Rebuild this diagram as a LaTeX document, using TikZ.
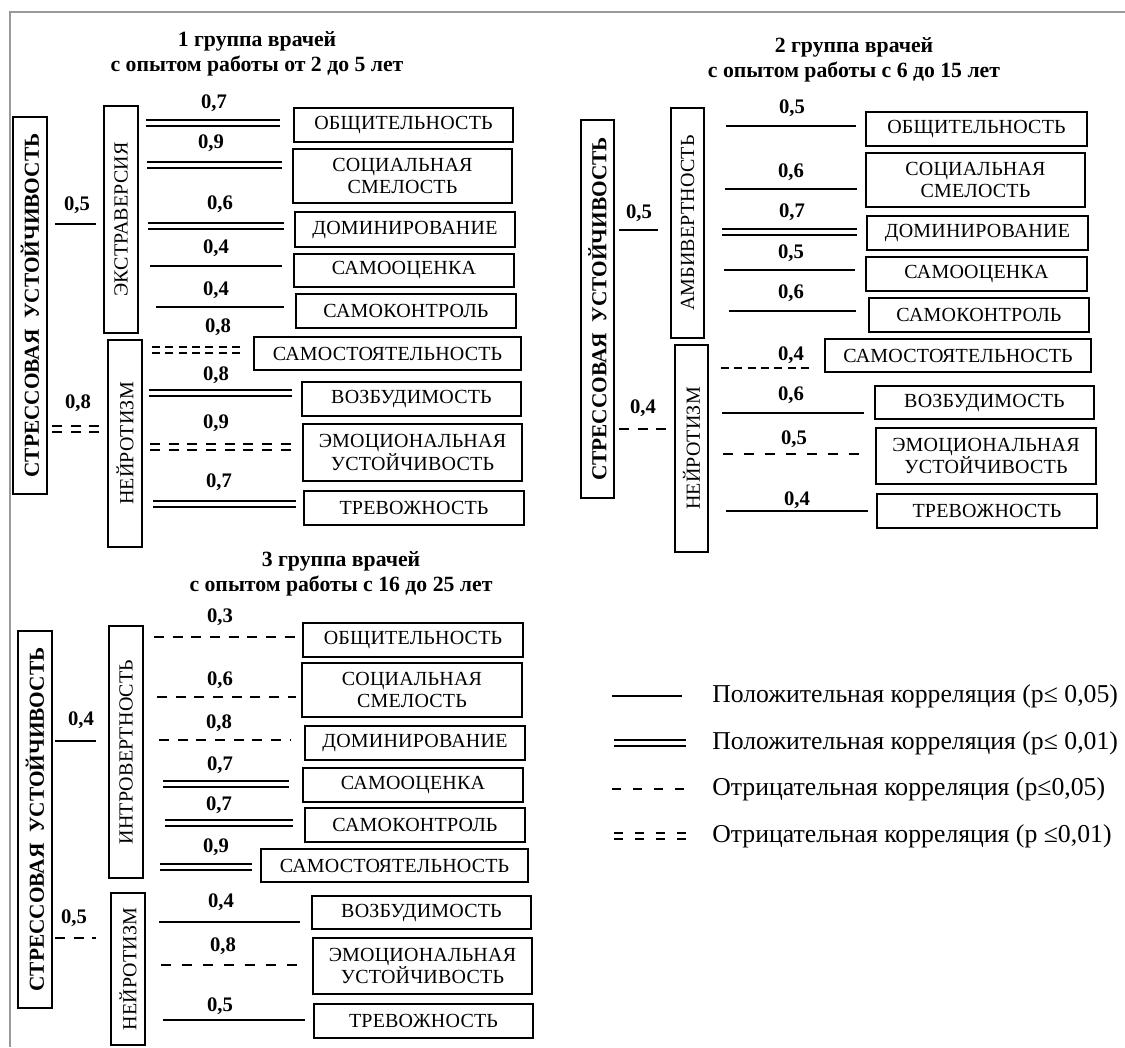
\documentclass[tikz,border=0pt]{standalone}
\usepackage{fontspec}
\setmainfont{Liberation Serif}
\newfontfamily\boxf[LetterSpace=1]{Liberation Serif}
\tikzset{
 tb/.style={draw, line width=0.8pt, inner sep=0pt, font=\boxf\fontsize{15}{17}\selectfont, align=center},
 vl/.style={tb, rotate=90},
 sb/.style={draw, line width=0.8pt, inner sep=0pt, rotate=90, font=\bfseries\fontsize{16}{19}\selectfont},
 num/.style={font=\bfseries\fontsize{15.5}{18}\selectfont, inner sep=0pt},
 ttl/.style={font=\bfseries\fontsize{16.3}{19}\selectfont, align=center, inner sep=0pt},
 cpos/.style={line width=1.4pt},
 cposd/.style={line width=1.4pt, double, double distance=3pt},
 cneg/.style={line width=1.4pt, dash pattern=on 7.5pt off 6.5pt},
 cnegw/.style={line width=1.4pt, dash pattern=on 7.5pt off 8.2pt},
 cnegs/.style={line width=1.4pt, dash pattern=on 6pt off 4pt},
 cnegd/.style={cposd, dash pattern=on 7.5pt off 6.5pt},
 cnegds/.style={cposd, dash pattern=on 6pt off 4pt},
 lneg/.style={line width=1.4pt, dash pattern=on 6.75pt off 9pt},
 lnegd/.style={cposd, dash pattern=on 6.75pt off 9pt},
 leg/.style={font=\fontsize{19.3}{22}\selectfont, anchor=west, inner sep=0pt},
 frame/.style={draw=black!40, line width=1.5pt},
}
\newcommand\tbx[6]{\node[tb, minimum width={0.75pt*(#4-#2)}, minimum height={0.75pt*(#5-#3)}] (#1) at ({(#2+#4)/2},{(#3+#5)/2}) {#6};}
\newcommand\vlab[7]{\node[#1, minimum width={0.75pt*(#6-#4)}, minimum height={0.75pt*(#5-#3)}] (#2) at ({(#3+#5)/2},{(#4+#6)/2}) {#7};}
\newcommand\corr[8]{\draw[#1] (#2,#4) -- (#3,#4); \node[num] (#5) at (#6,#7) {#8};}
\begin{document}
\begin{tikzpicture}[x=0.75pt, y=-0.75pt]
\useasboundingbox (0,0) rectangle (1125,1047);
\draw[frame] (10,1047) -- (10,12) -- (1125,12);

% ---------------- group 1
\node[ttl] (t1) at (257,54) {1 группа врачей\\с опытом работы от 2 до 5 лет};
\vlab{sb}{s1}{13}{117}{47}{494}{СТРЕССОВАЯ\ \ УСТОЙЧИВОСТЬ}
\vlab{vl}{e1}{104}{106}{138}{333}{ЭКСТРАВЕРСИЯ}
\vlab{vl}{n1}{108}{340}{142}{547}{НЕЙРОТИЗМ}
\corr{cpos}{55}{96}{224}{m1a}{77}{205}{0,5}
\corr{cnegd}{52}{100}{429}{m1b}{78}{403}{0,8}
\tbx{b1a}{294}{108}{513}{142}{ОБЩИТЕЛЬНОСТЬ}
\tbx{b1b}{293}{149}{512}{203}{СОЦИАЛЬНАЯ\\СМЕЛОСТЬ}
\tbx{b1c}{295}{212}{515}{247}{ДОМИНИРОВАНИЕ}
\tbx{b1d}{294}{254}{514}{287}{САМООЦЕНКА}
\tbx{b1e}{296}{294}{516}{328}{САМОКОНТРОЛЬ}
\tbx{b1f}{254}{337}{521}{370}{САМОСТОЯТЕЛЬНОСТЬ}
\tbx{b1g}{302}{382}{521}{416}{ВОЗБУДИМОСТЬ}
\tbx{b1h}{303}{424}{522}{481}{ЭМОЦИОНАЛЬНАЯ\\УСТОЙЧИВОСТЬ}
\tbx{b1i}{304}{491}{524}{525}{ТРЕВОЖНОСТЬ}
\corr{cposd}{146}{280}{123}{c1a}{214}{103}{0,7}
\corr{cposd}{147}{282}{165}{c1b}{211}{143}{0,9}
\corr{cposd}{148}{284}{226}{c1c}{220}{204}{0,6}
\corr{cpos}{150}{282}{266}{c1d}{216}{248}{0,4}
\corr{cpos}{156}{284}{307}{c1e}{216}{290}{0,4}
\corr{cnegds}{152}{243}{350}{c1f}{218}{327}{0,8}
\corr{cposd}{149}{292}{393}{c1g}{216}{375}{0,8}
\corr{cnegd}{150}{291}{447}{c1h}{216}{423}{0,9}
\corr{cposd}{153}{296}{504}{c1i}{219}{482}{0,7}

% ---------------- group 2
\node[ttl] (t2) at (854,60) {2 группа врачей\\с опытом работы с 6 до 15 лет};
\vlab{sb}{s2}{581}{120}{614}{498}{СТРЕССОВАЯ\ \ УСТОЙЧИВОСТЬ}
\vlab{vl}{e2}{671}{108}{704}{338}{АМБИВЕРТНОСТЬ}
\vlab{vl}{n2}{675}{345}{708}{552}{НЕЙРОТИЗМ}
\corr{cpos}{619}{658}{230}{m2a}{639}{213}{0,5}
\corr{cneg}{619}{666}{429}{m2b}{643}{408}{0,4}
\tbx{b2a}{866}{112}{1087}{146}{ОБЩИТЕЛЬНОСТЬ}
\tbx{b2b}{866}{153}{1085}{207}{СОЦИАЛЬНАЯ\\СМЕЛОСТЬ}
\tbx{b2c}{867}{216}{1088}{250}{ДОМИНИРОВАНИЕ}
\tbx{b2d}{866}{257}{1087}{291}{САМООЦЕНКА}
\tbx{b2e}{869}{298}{1089}{332}{САМОКОНТРОЛЬ}
\tbx{b2f}{825}{339}{1091}{372}{САМОСТОЯТЕЛЬНОСТЬ}
\tbx{b2g}{875}{386}{1094}{419}{ВОЗБУДИМОСТЬ}
\tbx{b2h}{876}{428}{1096}{484}{ЭМОЦИОНАЛЬНАЯ\\УСТОЙЧИВОСТЬ}
\tbx{b2i}{877}{494}{1097}{528}{ТРЕВОЖНОСТЬ}
\corr{cpos}{726}{856}{126}{c2a}{792}{108}{0,5}
\corr{cpos}{725}{857}{189}{c2b}{791}{172}{0,6}
\corr{cposd}{722}{857}{232}{c2c}{792}{212}{0,7}
\corr{cpos}{724}{855}{270}{c2d}{791}{253}{0,5}
\corr{cpos}{729}{856}{311}{c2e}{791}{293}{0,6}
\corr{cnegs}{721}{810}{368}{c2f}{791}{355}{0,4}
\corr{cpos}{722}{864}{413}{c2g}{791}{395}{0,6}
\corr{cnegw}{723}{863}{454}{c2h}{794}{439}{0,5}
\corr{cpos}{726}{868}{511}{c2i}{797}{500}{0,4}

% ---------------- group 3
\node[ttl] (t3) at (341,574) {3 группа врачей\\с опытом работы с 16 до 25 лет};
\vlab{sb}{s3}{18}{631}{52}{1008}{СТРЕССОВАЯ\ \ УСТОЙЧИВОСТЬ}
\vlab{vl}{e3}{109}{626}{143}{878}{ИНТРОВЕРТНОСТЬ}
\vlab{vl}{n3}{111}{893}{145}{1045}{НЕЙРОТИЗМ}
\corr{cpos}{55}{96}{741}{m3a}{81}{720}{0,4}
\corr{cneg}{55}{96}{938}{m3b}{74}{918}{0,5}
\tbx{b3a}{303}{623}{523}{657}{ОБЩИТЕЛЬНОСТЬ}
\tbx{b3b}{302}{663}{522}{717}{СОЦИАЛЬНАЯ\\СМЕЛОСТЬ}
\tbx{b3c}{305}{726}{525}{760}{ДОМИНИРОВАНИЕ}
\tbx{b3d}{303}{768}{523}{802}{САМООЦЕНКА}
\tbx{b3e}{305}{808}{525}{842}{САМОКОНТРОЛЬ}
\tbx{b3f}{261}{849}{528}{882}{САМОСТОЯТЕЛЬНОСТЬ}
\tbx{b3g}{312}{896}{531}{929}{ВОЗБУДИМОСТЬ}
\tbx{b3h}{313}{938}{532}{994}{ЭМОЦИОНАЛЬНАЯ\\УСТОЙЧИВОСТЬ}
\tbx{b3i}{314}{1004}{533}{1038}{ТРЕВОЖНОСТЬ}
\corr{cneg}{154}{295}{637}{c3a}{220}{617}{0,3}
\corr{cneg}{157}{296}{697}{c3b}{220}{680}{0,6}
\corr{cneg}{159}{291}{740}{c3c}{219}{723}{0,8}
\corr{cposd}{163}{289}{784}{c3d}{220}{765}{0,7}
\corr{cposd}{165}{293}{823}{c3e}{219}{805}{0,7}
\corr{cposd}{160}{252}{867}{c3f}{216}{847}{0,9}
\corr{cpos}{159}{300}{922}{c3g}{221}{902}{0,4}
\corr{cnegw}{161}{300}{965}{c3h}{223}{946}{0,8}
\corr{cpos}{163}{305}{1020}{c3i}{220}{1006}{0,5}

% ---------------- legend
\draw[cpos] (612,696) -- (682,696);
\node[leg] (l1) at (712,696) {Положительная корреляция (p≤ 0,05)};
\draw[cposd] (614,743) -- (686,743);
\node[leg] (l2) at (712,743) {Положительная корреляция (p≤ 0,01)};
\draw[lneg] (612,789) -- (686,789);
\node[leg] (l3) at (712,789) {Отрицательная корреляция (p≤0,05)};
\draw[lnegd] (614,836) -- (690,836);
\node[leg] (l4) at (712,836) {Отрицательная корреляция (p ≤0,01)};
\end{tikzpicture}
\end{document}
